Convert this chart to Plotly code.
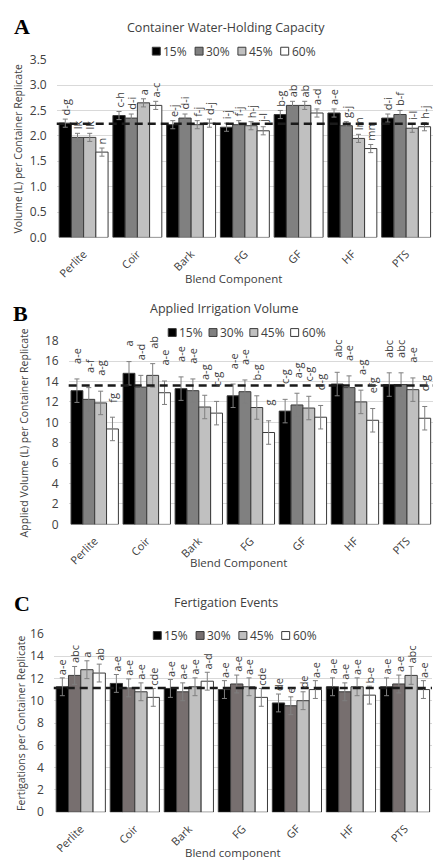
import plotly.graph_objects as go

W, H = 434, 867

categories = ["Perlite", "Coir", "Bark", "FG", "GF", "HF", "PTS"]
levels = ["15%", "30%", "45%", "60%"]

# Panel A: Container water-holding capacity (L)
a_15 = [2.25, 2.40, 2.22, 2.17, 2.42, 2.45, 2.35]
a_30 = [1.97, 2.35, 2.35, 2.22, 2.60, 2.20, 2.42]
a_45 = [1.97, 2.65, 2.22, 2.20, 2.60, 1.95, 2.15]
a_60 = [1.68, 2.60, 2.25, 2.10, 2.45, 1.75, 2.18]
a_err = 0.08
a_mean = 2.24
a_let_15 = ["d-g", "c-h", "e-j", "i-j", "b-g", "a-e", "d-i"]
a_let_30 = ["lk", "d-i", "d-i", "f-j", "ab", "g-j", "b-f"]
a_let_45 = ["lk", "a", "f-j", "h-j", "ab", "lm", "i-l"]
a_let_60 = ["n", "a-c", "d-j", "j-l", "a-d", "mn", "h-j"]

# Panel B: Applied irrigation volume (L)
b_15 = [13.1, 14.8, 13.3, 12.6, 11.1, 13.75, 13.7]
b_30 = [12.25, 13.45, 13.1, 13.0, 11.7, 13.4, 13.7]
b_45 = [11.9, 14.6, 11.5, 11.45, 11.4, 12.0, 13.2]
b_60 = [9.35, 12.9, 10.9, 9.0, 10.5, 10.2, 10.4]
b_err = 1.15
b_mean = 13.6
b_let_15 = ["a-e", "a", "a-e", "a-e", "c-g", "abc", "abc"]
b_let_30 = ["a-f", "a-d", "a-e", "a-e", "a-g", "a-e", "abc"]
b_let_45 = ["a-g", "ab", "a-g", "b-g", "c-g", "a-g", "a-e"]
b_let_60 = ["fg", "a-e", "c-g", "g", "d-g", "efg", "d-g"]

# Panel C: Fertigation events
c_15 = [11.25, 11.55, 11.1, 11.0, 9.8, 11.25, 11.25]
c_30 = [12.27, 11.15, 10.8, 11.5, 9.55, 10.8, 11.5]
c_45 = [12.78, 10.8, 11.25, 11.25, 10.0, 11.25, 12.27]
c_60 = [12.48, 10.3, 11.75, 10.3, 11.0, 10.5, 11.0]
c_err = 0.8
c_mean = 11.15
c_let_15 = ["a-e", "a-e", "a-e", "a-e", "de", "a-e", "a-e"]
c_let_30 = ["abc", "a-e", "a-e", "a-e", "e", "a-e", "a-e"]
c_let_45 = ["a", "a-e", "a-e", "a-e", "de", "a-e", "abc"]
c_let_60 = ["ab", "cde", "a-d", "cde", "a-e", "b-e", "a-e"]

FONT = "Open Sans"
TXT = "#404040"
EDGE = "#3a3a3a"

panels = [
    dict(vals=[a_15, a_30, a_45, a_60], err=a_err, mean=a_mean,
         lets=[a_let_15, a_let_30, a_let_45, a_let_60], letshift=2,
         colors=["#000000", "#808080", "#c0c0c0", "#ffffff"],
         rng=[0, 3.5], dtick=0.5, fmt=".1f",
         xpx=[55, 433], ypx=[51.7, 233],
         title="Container Water-Holding Capacity", title_xy=(225, 19),
         letter="A", letter_xy=(20, 18),
         legend_xy=(151, 43, 43), xtitle="Blend Component", xtitle_xy=(233, 275),
         ytitle="Volume (L) per Container Replicate", ytitle_x=16),
    dict(vals=[b_15, b_30, b_45, b_60], err=b_err, mean=b_mean,
         lets=[b_let_15, b_let_30, b_let_45, b_let_60], letshift=13,
         colors=["#000000", "#808080", "#c0c0c0", "#ffffff"],
         rng=[0, 18], dtick=2, fmt="d",
         xpx=[67, 433], ypx=[338.3, 525.7],
         title="Applied Irrigation Volume", title_xy=(223, 305),
         letter="B", letter_xy=(19, 311),
         legend_xy=(167, 330, 41), xtitle="Blend Component", xtitle_xy=(238, 565),
         ytitle="Applied Volume (L) per Container Replicate", ytitle_x=22),
    dict(vals=[c_15, c_30, c_45, c_60], err=c_err, mean=c_mean,
         lets=[c_let_15, c_let_30, c_let_45, c_let_60], letshift=1,
         colors=["#000000", "#776f6f", "#c0c0c0", "#ffffff"],
         rng=[0, 16], dtick=2, fmt="d",
         xpx=[52, 432], ypx=[637.3, 819.3],
         title="Fertigation Events", title_xy=(225, 605),
         letter="C", letter_xy=(20, 606),
         legend_xy=(152, 639, 43), xtitle="Blend component", xtitle_xy=(232, 860),
         ytitle="Fertigations per Container Replicate", ytitle_x=19),
]

fig = go.Figure()
layout = dict(
    width=W, height=H, margin=dict(l=0, r=0, t=0, b=0),
    paper_bgcolor="white", plot_bgcolor="white",
    font=dict(family=FONT, color=TXT, size=11),
    barmode="group", bargap=0.09, bargroupgap=0.0,
    showlegend=False,
    annotations=[], shapes=[],
)

xs = list(range(len(categories)))
groupw = 1 - 0.09

for p, panel in enumerate(panels):
    sfx = "" if p == 0 else str(p + 1)
    xa, ya = "x" + sfx, "y" + sfx
    for i, lev in enumerate(levels):
        fig.add_trace(go.Bar(
            x=xs, y=panel["vals"][i], name=lev,
            xaxis=xa, yaxis=ya, showlegend=False,
            marker=dict(color=panel["colors"][i], line=dict(color=EDGE, width=1)),
            error_y=dict(type="constant", value=panel["err"], color="#7f7f7f",
                         thickness=1, width=2.5),
        ))
        off = (-1.5 + i) * groupw / 4
        for k, v in enumerate(panel["vals"][i]):
            layout["annotations"].append(dict(
                x=k + off, y=v + panel["err"], xref=xa, yref=ya,
                text=panel["lets"][i][k], textangle=-90, showarrow=False,
                xanchor="center", yanchor="bottom", yshift=panel["letshift"],
                font=dict(size=11, color=TXT, family=FONT)))
    x0, x1 = panel["xpx"]
    yt, yb = panel["ypx"]
    layout["xaxis" + sfx] = dict(
        domain=[x0 / W, x1 / W], anchor=ya, range=[-0.5, 6.5],
        tickvals=xs, ticktext=categories, tickangle=-45,
        tickfont=dict(size=11, color=TXT), showgrid=False, zeroline=False,
        showline=False, ticks="outside", ticklen=5, tickcolor="rgba(0,0,0,0)",
        fixedrange=True)
    layout["yaxis" + sfx] = dict(
        domain=[1 - yb / H, 1 - yt / H], anchor=xa, range=panel["rng"],
        dtick=panel["dtick"], tickformat=panel["fmt"],
        showgrid=True, gridcolor="#d9d9d9", gridwidth=1, zeroline=False,
        showline=False, tickfont=dict(size=12, color="#404040"),
        ticklabelstandoff=9)
    # legend (swatch + label per level)
    lx, ly, step = panel["legend_xy"]
    for i, lev in enumerate(levels):
        sx = lx + step * i
        layout["shapes"].append(dict(
            type="rect", xref="paper", yref="paper",
            x0=sx / W, x1=(sx + 8) / W, y0=1 - (ly + 4) / H, y1=1 - (ly - 4) / H,
            fillcolor=panel["colors"][i], line=dict(color=EDGE, width=1)))
        layout["annotations"].append(dict(
            x=(sx + 9) / W, y=1 - ly / H, xref="paper", yref="paper", text=lev,
            showarrow=False, xanchor="left", yanchor="middle",
            font=dict(size=12, color=TXT, family=FONT)))
    # mean reference line
    layout["shapes"].append(dict(
        type="line", xref=xa + " domain", yref=ya, x0=0, x1=1,
        y0=panel["mean"], y1=panel["mean"],
        line=dict(color="#1a1a1a", width=2.5, dash="8px,5px"), layer="above"))
    tx, ty = panel["title_xy"]
    layout["annotations"].append(dict(
        x=tx / W, y=1 - ty / H, xref="paper", yref="paper", text=panel["title"],
        showarrow=False, xanchor="center", yanchor="middle",
        font=dict(size=12.5, color=TXT, family=FONT)))
    lx2, ly2 = panel["letter_xy"]
    layout["annotations"].append(dict(
        x=lx2 / W, y=1 - ly2 / H, xref="paper", yref="paper",
        text="<b>" + panel["letter"] + "</b>", showarrow=False,
        xanchor="center", yanchor="middle",
        font=dict(size=22, color="#000000", family="Liberation Serif")))
    xx, xy = panel["xtitle_xy"]
    layout["annotations"].append(dict(
        x=xx / W, y=1 - xy / H, xref="paper", yref="paper", text=panel["xtitle"],
        showarrow=False, xanchor="center", yanchor="middle",
        font=dict(size=11.5, color=TXT, family=FONT)))
    layout["annotations"].append(dict(
        x=panel["ytitle_x"] / W, y=1 - ((yt + yb) / 2) / H, xref="paper", yref="paper",
        text=panel["ytitle"], textangle=-90, showarrow=False,
        xanchor="center", yanchor="middle",
        font=dict(size=10.5, color=TXT, family=FONT)))

fig.update_layout(**layout)
fig.write_html("out.html")
